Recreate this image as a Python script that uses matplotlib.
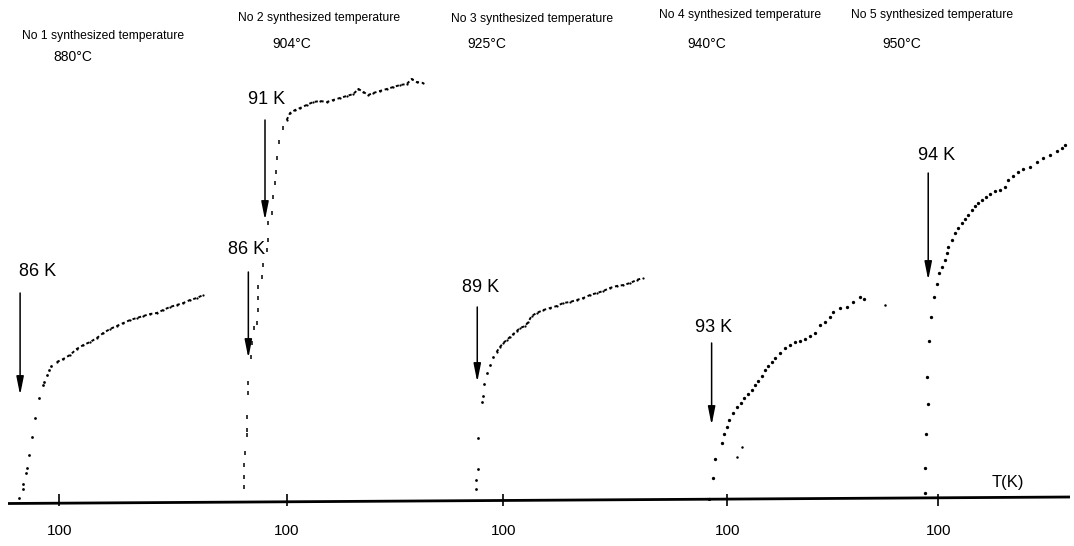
import matplotlib
matplotlib.use("Agg")
import matplotlib.pyplot as plt

# ---------------- data (T in K, R in arbitrary units) ----------------
s1_trans_T = [85.6, 86.9, 86.9, 88.1, 88.4, 89.3, 90.4, 91.4, 92.8, 94.1, 94.6, 95.5, 96.2, 97.0]
s1_trans_R = [2, 11, 16, 27, 32, 45, 63, 82, 102, 115, 118, 125, 130, 134]
s1_norm_T = [99.1, 101.4, 103.8, 106.2, 108.6, 111.0, 113.4, 115.7, 118.1, 120.5, 122.9, 125.3,
             127.6, 130.0, 132.4, 134.8, 137.1, 139.5, 141.9, 144.3, 146.7, 149.1, 151.4]
s1_norm_R = [138, 141, 145, 151, 155, 158, 162, 167, 171, 174, 177, 180,
             182, 184, 186, 187, 190, 193, 195, 197, 200, 202, 205]

s2_trans_T = [84.9, 84.9, 84.9, 85.1, 85.7, 85.7, 85.7, 86.3, 86.3, 87.3, 87.7, 88.4, 89.3, 89.6,
              89.6, 89.9, 91.1, 91.6, 92.9, 93.4, 93.4, 94.6, 95.2, 95.8, 96.2, 96.4, 97.4, 98.6]
s2_trans_R = [13, 23, 35, 47, 65, 70, 83, 107, 117, 143, 157, 172, 177, 190,
              202, 213, 223, 235, 250, 260, 277, 287, 303, 317, 328, 342, 358, 372]
s2_norm_T = [100.0, 101.2, 103.0, 104.8, 107.1, 109.5, 111.9, 114.3, 116.6, 119.0, 121.4, 123.8,
             125.6, 127.4, 129.1, 130.9, 133.3, 135.7, 138.1, 140.5, 142.9, 144.6, 146.4, 148.8]
s2_norm_R = [380, 387, 390, 392, 395, 398, 399, 398, 400, 402, 404, 406,
             411, 408, 405, 407, 409, 411, 413, 415, 416, 421, 418, 417]

s3_trans_T = [90.3, 90.3, 91.1, 91.1, 92.3, 92.6, 93.1, 94.1, 95.3, 96.4]
s3_trans_R = [11, 20, 31, 62, 98, 104, 116, 127, 135, 143]
s3_norm_T = [97.6, 98.8, 100.0, 101.2, 102.4, 103.6, 104.8, 106.0, 107.8, 108.9, 110.1, 111.9, 114.3,
             116.7, 119.1, 121.4, 123.8, 126.2, 128.6, 131.0, 133.4, 135.7, 138.0, 140.5, 142.9,
             145.3, 147.6, 149.8]
s3_norm_R = [148, 153, 157, 160, 163, 166, 169, 172, 174, 178, 184, 187, 190,
             192, 194, 197, 198, 200, 202, 205, 207, 209, 212, 214, 215,
             217, 220, 222]

s4_T = [93.6, 94.8, 95.6, 98.0, 98.8, 99.8, 100.7, 102.1, 103.6, 104.8, 106.0, 107.5, 108.7,
        109.9, 111.1, 112.3, 113.5, 114.6, 115.9, 117.0, 118.8, 120.6, 122.4, 124.2, 126.0,
        127.7, 129.5, 131.3, 133.1, 134.9, 136.7, 137.9, 140.3, 142.6, 145.0, 147.4, 148.8]
s4_R = [1, 22, 41, 57, 66, 73, 80, 87, 93, 97, 102, 106, 110,
        115, 119, 124, 130, 134, 138, 142, 147, 152, 155, 158, 159,
        161, 164, 167, 175, 178, 183, 188, 192, 193, 198, 203, 201]
s4_stray_T = [103.4, 105.1, 156.3]
s4_stray_R = [43, 53, 195]

s5_T = [95.3, 95.3, 95.5, 96.4, 95.9, 96.8, 97.4, 98.5, 99.4, 100.4, 101.2, 102.4, 103.0, 103.6,
        104.8, 106.0, 107.1, 108.4, 109.5, 110.7, 111.9, 113.1, 114.3, 115.5, 117.0, 118.5,
        120.3, 122.0, 123.8, 125.0, 126.8, 128.6, 130.4, 132.8, 135.1, 137.5, 139.9, 142.3,
        144.1, 145.3]
s5_R = [7, 32, 66, 96, 123, 159, 183, 203, 216, 227, 233, 240, 247, 253,
        260, 267, 272, 277, 281, 285, 290, 294, 297, 300, 303, 306,
        309, 310, 313, 320, 324, 328, 331, 333, 338, 342, 345, 349,
        352, 355]

titles = ["No 1 synthesized temperature", "No 2 synthesized temperature",
          "No 3 synthesized temperature", "No 4 synthesized temperature",
          "No 5 synthesized temperature"]
synth_temps = ["880°C", "904°C", "925°C", "940°C", "950°C"]
tick_values = [100]
tick_labels = ["100"]

# Tc arrows
tc_T = [86.0, 92.25, 86.3, 90.7, 94.4, 96.4]
tc_labels = ["86 K", "91 K", "86 K", "89 K", "93 K", "94 K"]

# ---------------- layout ----------------
W, H = 1074, 546
BASE = 500           # baseline, px from top
SCALE = 2.8          # px per K
TICK_PX = [59.3, 286.7, 503.3, 727.3, 938.3]
FONT = "Liberation Sans"

fig = plt.figure(figsize=(W / 100, H / 100), dpi=100)
fig.patch.set_facecolor("white")

axes = []
for tp in TICK_PX:
    ax = fig.add_axes([0, (H - BASE) / H, 1, BASE / H])
    ax.set_xlim(100 - tp / SCALE, 100 + (W - tp) / SCALE)
    ax.set_ylim(0, BASE)
    ax.patch.set_alpha(0)
    for sp in ax.spines.values():
        sp.set_visible(False)
    ax.set_yticks([])
    ax.set_xticks(tick_values)
    ax.set_xticklabels(tick_labels, fontfamily=FONT)
    ax.tick_params(axis="x", direction="inout", length=9, width=1.2, pad=13,
                   labelsize=11, colors="black")
    axes.append(ax)

# baseline (slightly tilted, as in the scanned original)
axes[0].plot([8 / W, 1070 / W], [-3.5 / BASE, 3 / BASE], transform=axes[0].transAxes,
             color="black", lw=2, solid_capstyle="butt", clip_on=False)

dot = dict(color="black", marker="o", ms=2.0, mew=0, linestyle="none")
dash_line = dict(color="black", lw=1.4, linestyle=(0, (1.6, 1.4)), marker="o", ms=1.6, mew=0)

# sample 1
axes[0].plot(s1_trans_T, s1_trans_R, **dot)
axes[0].plot(s1_norm_T, s1_norm_R, **dash_line)
# sample 2
axes[1].plot(s2_trans_T, s2_trans_R, color="black", marker="|", ms=3.0, mew=1.1, linestyle="none")
axes[1].plot(s2_norm_T, s2_norm_R, **dash_line)
# sample 3
axes[2].plot(s3_trans_T, s3_trans_R, **dot)
axes[2].plot(s3_norm_T, s3_norm_R, **dash_line)
# sample 4
axes[3].plot(s4_T, s4_R, **dict(dot, ms=2.4))
axes[3].plot(s4_stray_T, s4_stray_R, **dict(dot, ms=1.8))
# sample 5
axes[4].plot(s5_T, s5_R, **dict(dot, ms=2.4))

# Tc arrows and labels
arrow_axes = [0, 1, 1, 2, 3, 4]
arrow_R = [(207, 105), (380, 280), (228, 142), (193, 118), (157, 75), (327, 220)]
label_pos = [(92.4, 228), (92.7, 400), (85.5, 250), (92.0, 212), (95.2, 173), (99.5, 345)]
for ai, T, (r0, r1), lab, (lx, ly) in zip(arrow_axes, tc_T, arrow_R, tc_labels, label_pos):
    ax = axes[ai]
    ax.annotate("", xy=(T, r1), xytext=(T, r0),
                arrowprops=dict(arrowstyle="-|>,head_length=1.0,head_width=0.2",
                                color="black", lw=1.1, shrinkA=0, shrinkB=0,
                                mutation_scale=11))
    ax.text(lx, ly, lab, ha="center", va="center", fontsize=13, fontfamily=FONT)

# axis label
axes[4].text(124.9, 18, "T(K)", ha="center", va="center", fontsize=12, fontfamily=FONT)

# titles
title_px = [(103, 36), (319, 18), (532, 19), (740, 15), (932, 15)]
temp_px = [(73, 57), (292, 44), (487, 44), (707, 44), (902, 44)]
for t, s, (tx, ty), (sx, sy) in zip(titles, synth_temps, title_px, temp_px):
    fig.text(tx / W, 1 - ty / H, t, ha="center", va="center", fontsize=8.7, fontfamily=FONT)
    fig.text(sx / W, 1 - sy / H, s, ha="center", va="center", fontsize=10, fontfamily=FONT)

fig.savefig("out.png", dpi=100, facecolor="white")
